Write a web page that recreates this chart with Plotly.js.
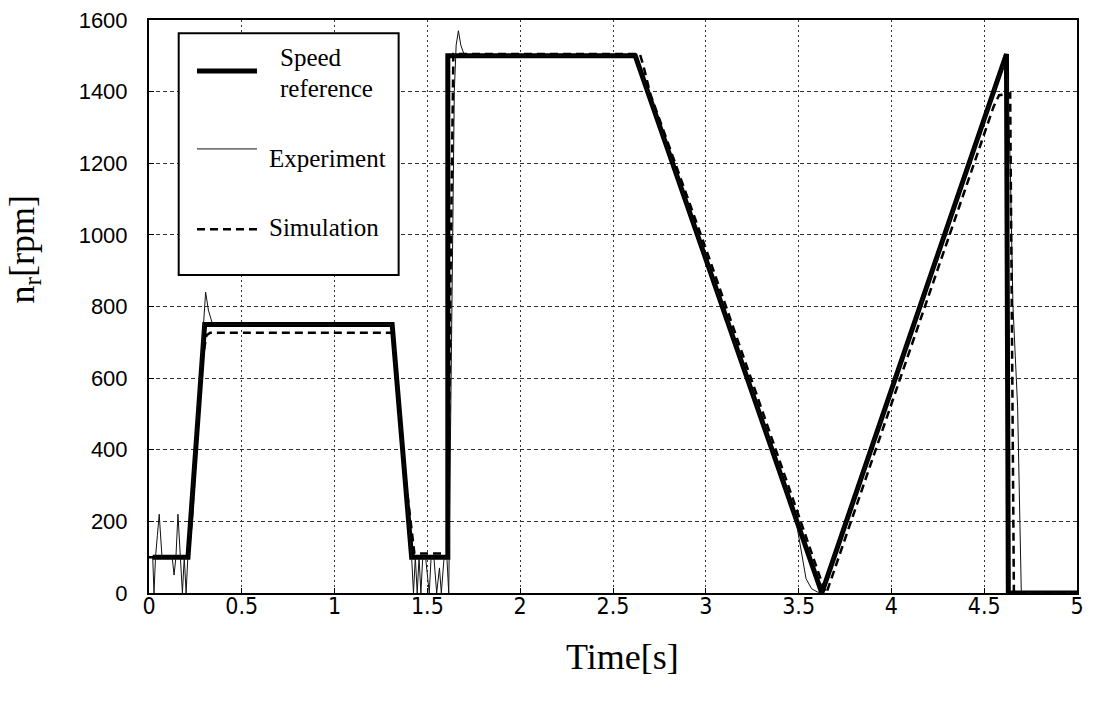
<!DOCTYPE html>
<html>
<head>
<meta charset="utf-8">
<script src="https://cdn.plot.ly/plotly-3.0.1.min.js"></script>
<style>html,body{margin:0;padding:0;background:#fff;}#chart{width:1094px;height:705px;}</style>
</head>
<body>
<div id="chart"></div>
<script>
// Speed reference
const refT = [0.02, 0.21, 0.30, 1.31, 1.415, 1.61, 1.61, 2.62, 3.625, 4.62, 4.63, 5.0];
const refV = [100, 100, 750, 750, 100, 100, 1500, 1500, 0, 1505, 0, 0];

// Experiment
const expT = [0.00, 0.02, 0.027, 0.035, 0.045, 0.055, 0.07, 0.10, 0.125, 0.135, 0.145, 0.156, 0.168, 0.18, 0.19, 0.20, 0.21, 0.24, 0.27, 0.29, 0.305, 0.32, 0.34, 0.37,
  1.31, 1.35, 1.40, 1.415, 1.425, 1.435, 1.445, 1.455, 1.465, 1.475, 1.49, 1.51, 1.52, 1.535, 1.55, 1.565, 1.575, 1.59, 1.605, 1.615, 1.63, 1.645, 1.655, 1.667, 1.68, 1.70,
  2.62, 3.00, 3.45, 3.49, 3.52, 3.54, 3.57, 3.60, 3.625, 3.70, 4.00, 4.30, 4.60, 4.625, 4.64, 4.655, 4.68, 4.70, 5.0];
const expV = [100, 100, 0, 100, 160, 220, 100, 100, 100, 50, 100, 220, 100, 0, 100, 0, 110, 330, 560, 720, 840, 790, 755, 750,
  750, 502, 193, 100, 0, 100, 0, 100, 0, 100, 100, 0, 100, 100, 0, 70, 0, 100, 100, 0, 700, 1400, 1530, 1570, 1530, 1500,
  1500, 935, 262, 190, 100, 40, 12, 3, 0, 113, 565, 1018, 1470, 1455, 1200, 800, 520, 0, 0];

// Simulation
const simT = [0.00, 0.21, 0.23, 0.26, 0.29, 0.31, 0.33, 1.31, 1.33, 1.38, 1.43, 1.61, 1.625, 1.64, 2.645, 2.665, 2.70,
  3.00, 3.30, 3.52, 3.60, 3.635, 3.65, 3.70, 4.00, 4.30, 4.55, 4.58, 4.64, 4.66, 5.0];
const simV = [100, 100, 200, 450, 660, 720, 727, 727, 640, 330, 110, 110, 900, 1505, 1505, 1470, 1395,
  962, 515, 187, 67, 15, 0, 75, 528, 980, 1357, 1390, 1395, 0, 0];

const xTicks = [0, 0.5, 1, 1.5, 2, 2.5, 3, 3.5, 4, 4.5, 5];
const xTickText = ['0', '0.5', '1', '1.5', '2', '2.5', '3', '3.5', '4', '4.5', '5'];
const yTicks = [0, 200, 400, 600, 800, 1000, 1200, 1400, 1600];

const legendNames = ['Speed', 'reference', 'Experiment', 'Simulation'];

const traces = [
  {x: refT, y: refV, mode: 'lines', name: 'Speed reference', showlegend: false,
   line: {color: '#000', width: 5}},
  {x: expT, y: expV, mode: 'lines', name: 'Experiment', showlegend: false,
   line: {color: '#111', width: 1}},
  {x: simT, y: simV, mode: 'lines', name: 'Simulation', showlegend: false,
   line: {color: '#000', width: 2.5, dash: '8px,5px'}}
];

const serif = 'Liberation Serif, Times New Roman, serif';
const tickFont = {family: 'Liberation Sans, Arial, sans-serif', size: 22, color: '#000'};

const layout = {
  width: 1094, height: 705,
  margin: {l: 149, r: 17, t: 20, b: 112},
  paper_bgcolor: '#fff', plot_bgcolor: '#fff',
  showlegend: false,
  xaxis: {
    range: [0, 5], tickvals: xTicks, ticktext: xTickText,
    tickfont: {family: 'Liberation Sans Narrow, Arial Narrow, DejaVu Sans Condensed, sans-serif', size: 23, color: '#000'},
    showgrid: true, gridcolor: '#333', gridwidth: 1, griddash: '2px,3px',
    zeroline: false, showline: true, linecolor: '#000', linewidth: 2, mirror: true,
    ticks: 'inside', ticklen: 5, tickcolor: '#000', ticklabelstandoff: -9
  },
  yaxis: {
    range: [0, 1600], tickvals: yTicks,
    tickfont: tickFont,
    showgrid: true, gridcolor: '#333', gridwidth: 1, griddash: '4px,3px',
    zeroline: false, showline: true, linecolor: '#000', linewidth: 2, mirror: true,
    ticks: 'inside', ticklen: 5, tickcolor: '#000', ticklabelstandoff: 15
  },
  shapes: [
    {type: 'rect', xref: 'paper', yref: 'paper', x0: 0.032, x1: 0.269, y0: 0.555, y1: 0.977,
     line: {color: '#000', width: 2}, fillcolor: '#fff', layer: 'above'},
    {type: 'line', xref: 'paper', yref: 'paper', x0: 0.0517, x1: 0.1164, y0: 0.911, y1: 0.911,
     line: {color: '#000', width: 5}},
    {type: 'line', xref: 'paper', yref: 'paper', x0: 0.0517, x1: 0.1164, y0: 0.775, y1: 0.775,
     line: {color: '#111', width: 1}},
    {type: 'line', xref: 'paper', yref: 'paper', x0: 0.0517, x1: 0.1164, y0: 0.635, y1: 0.635,
     line: {color: '#000', width: 2.5, dash: '8px,5px'}}
  ],
  annotations: [
    {xref: 'paper', yref: 'paper', x: 0.139, y: 0.935, xanchor: 'left', yanchor: 'middle', showarrow: false,
     text: legendNames[0], font: {family: serif, size: 25, color: '#000'}},
    {xref: 'paper', yref: 'paper', x: 0.139, y: 0.881, xanchor: 'left', yanchor: 'middle', showarrow: false,
     text: legendNames[1], font: {family: serif, size: 25, color: '#000'}},
    {xref: 'paper', yref: 'paper', x: 0.1275, y: 0.759, xanchor: 'left', yanchor: 'middle', showarrow: false,
     text: legendNames[2], font: {family: serif, size: 25, color: '#000'}},
    {xref: 'paper', yref: 'paper', x: 0.1275, y: 0.637, xanchor: 'left', yanchor: 'middle', showarrow: false,
     text: legendNames[3], font: {family: serif, size: 25, color: '#000'}},
    {xref: 'paper', yref: 'paper', x: -0.134, y: 0.599, xanchor: 'center', yanchor: 'middle', showarrow: false,
     textangle: -90, text: 'n<sub>r</sub>[rpm]', font: {family: serif, size: 36, color: '#000'}},
    {xref: 'paper', yref: 'paper', x: 0.5097, y: -0.112, xanchor: 'center', yanchor: 'middle', showarrow: false,
     text: 'Time[s]', font: {family: serif, size: 36, color: '#000'}}
  ]
};

Plotly.newPlot('chart', traces, layout, {displayModeBar: false, staticPlot: true});
</script>
</body>
</html>
